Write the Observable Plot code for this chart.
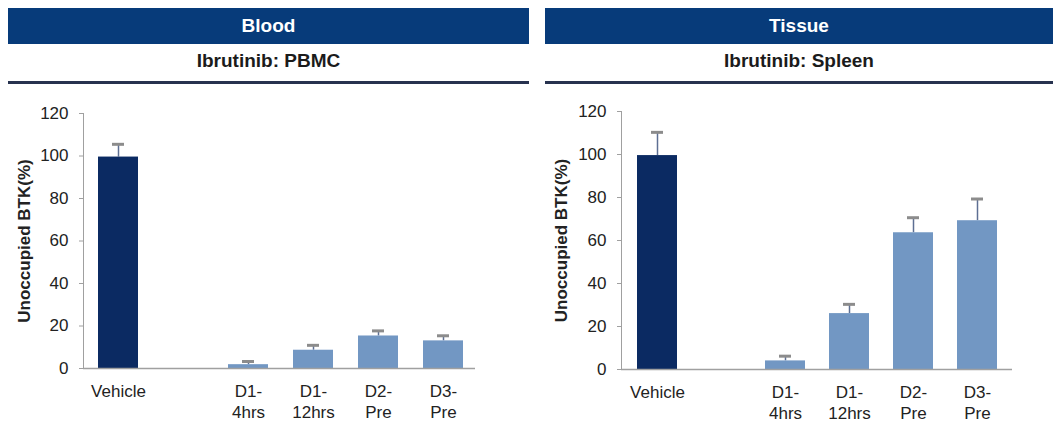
<!DOCTYPE html>
<html>
<head>
<meta charset="utf-8">
<script src="https://cdn.jsdelivr.net/npm/d3@7"></script>
<script src="https://cdn.jsdelivr.net/npm/@observablehq/plot@0.6"></script>
<style>
  html, body { margin: 0; padding: 0; background: #fff; }
  body { width: 1053px; height: 424px; overflow: hidden; position: relative;
         font-family: Arial, "Liberation Sans", sans-serif; }
  .panel { position: absolute; top: 8px; }
  .head { height: 36px; line-height: 36px; background: #073b7a; color: #fff;
          font-weight: bold; font-size: 19px; text-align: center; }
  .sub { height: 37px; line-height: 33px; color: #1b1b1b; font-weight: bold;
         font-size: 19px; text-align: center; border-bottom: 3px solid #27324f; }
  .panel svg { display: block; }
</style>
</head>
<body>
<div class="panel" id="left" style="left:8px;width:521px">
  <div class="head">Blood</div>
  <div class="sub">Ibrutinib: PBMC</div>
</div>
<div class="panel" id="right" style="left:545px;width:508px">
  <div class="head">Tissue</div>
  <div class="sub">Ibrutinib: Spleen</div>
</div>
<script>
// ---- data ----
const categories = ["Vehicle", "D1-4hrs", "D1-12hrs", "D2-Pre", "D3-Pre"];
const tickLabels = ["Vehicle", "D1-\n4hrs", "D1-\n12hrs", "D2-\nPre", "D3-\nPre"];
const bloodMean = [99.5, 1.8, 8.6, 15.3, 13.0];
const bloodErr  = [6.0, 1.5, 2.3, 2.4, 2.4];
const spleenMean = [99.5, 4.0, 26.0, 63.6, 69.2];
const spleenErr  = [10.8, 2.2, 4.3, 7.0, 10.1];
const yTicks = [0, 20, 40, 60, 80, 100, 120];
const yLabel = "Unoccupied BTK(%)";
const gapSlot = " ";

const navy = "#0b2a62", light = "#7297c3";

function panel(mean, err, o) {
  const data = categories.map((c, i) => ({cat: c, v: mean[i], e: mean[i] + err[i]}));
  const labelOf = new Map(categories.map((c, i) => [c, tickLabels[i]]));
  const domain = [categories[0], gapSlot, ...categories.slice(1)];
  const svg = Plot.plot({
    width: o.width, height: 340,
    marginLeft: o.ml, marginRight: o.mr, marginTop: o.mt, marginBottom: o.mb,
    style: {fontSize: "17px", fontFamily: "Arial, 'Liberation Sans', sans-serif", color: "#222", background: "transparent"},
    x: {domain, range: o.range, paddingInner: 0.377, paddingOuter: 0},
    y: {domain: [0, 120]},
    marks: [
      Plot.ruleX(data, {x: "cat", y1: "v", y2: "e", stroke: "#5d6f93", strokeWidth: 1.5}),
      Plot.tickY(data, {x: "cat", y: "e", stroke: "#8c8c8c", strokeWidth: 3, insetLeft: 14, insetRight: 14}),
      Plot.barY(data, {x: "cat", y: "v", fill: d => d.cat === categories[0] ? navy : light}),
      Plot.frame({anchor: "left", stroke: "#a0a0a0"}),
      Plot.ruleY([0], {stroke: "#a0a0a0", strokeWidth: 1.5}),
      Plot.axisY({ticks: yTicks, tickSize: 4, tickPadding: 11, stroke: "#a0a0a0",
                  label: yLabel, labelAnchor: "center", labelArrow: "none", labelOffset: o.lo}),
      Plot.axisX({ticks: categories, tickSize: 0, tickPadding: 14, lineHeight: 1.22,
                  tickFormat: d => labelOf.get(d) ?? "", label: null})
    ]
  });
  d3.select(svg).selectAll('[aria-label="y-axis label"] text, [aria-label="y-axis label"]')
    .attr("font-weight", "bold");
  return svg;
}

document.getElementById("left").appendChild(
  panel(bloodMean, bloodErr, {width: 521, ml: 75, mr: 54, mt: 29, mb: 56, range: [90, 455.5], lo: 66}));
document.getElementById("right").appendChild(
  panel(spleenMean, spleenErr, {width: 508, ml: 76, mr: 41, mt: 27, mb: 55, range: [89, 454], lo: 67}));
</script>
</body>
</html>
